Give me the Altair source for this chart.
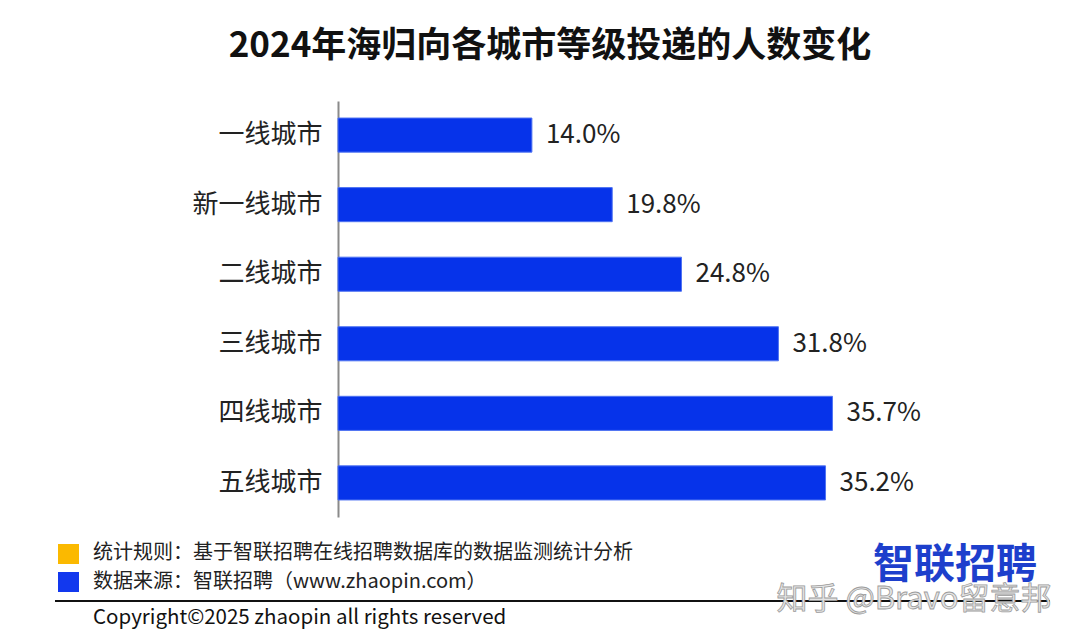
import altair as alt
import pandas as pd

# Share of overseas returnees' applications by city tier, 2024
cities = ["一线城市", "新一线城市", "二线城市", "三线城市", "四线城市", "五线城市"]
shares = [14.0, 19.8, 24.8, 31.8, 35.7, 35.2]

title_text = "2024年海归向各城市等级投递的人数变化"
note_rule = "统计规则：基于智联招聘在线招聘数据库的数据监测统计分析"
note_source = "数据来源：智联招聘（www.zhaopin.com）"
copyright_text = "Copyright©2025 zhaopin all rights reserved"
logo_text = "智联招聘"
watermark_text = "知乎 @Bravo留意邦"

FONT = "Noto Sans CJK SC"
BAR_BLUE = "#0633ea"
LOGO_BLUE = "#1d3fcc"
YELLOW = "#fbb900"

# plot area placement inside the 1080x643 canvas
LEFT, TOP, W, H = 338, 101, 554, 416

df = pd.DataFrame({
    "city": cities,
    "share": shares,
    "label": [f"{v:.1f}%" for v in shares],
})

x_enc = alt.X("share:Q", scale=alt.Scale(domain=[0, 40]), axis=None)
y_enc = alt.Y(
    "city:N",
    sort=cities,
    scale=alt.Scale(paddingInner=0.51, paddingOuter=0.245),
    axis=alt.Axis(
        title=None,
        ticks=False,
        domainColor="#8a8a8a",
        domainWidth=2,
        labelFont=FONT,
        labelFontSize=26,
        labelColor="#222222",
        labelPadding=16,
    ),
)

bars = alt.Chart(df).mark_bar(color=BAR_BLUE, stroke="#4f73f2", strokeWidth=1).encode(
    x=x_enc, y=y_enc
)

values = alt.Chart(df).mark_text(
    align="left", baseline="middle", dx=14, font=FONT, fontSize=26, color="#222222"
).encode(x=x_enc, y=alt.Y("city:N", sort=cities), text="label:N")


def one(**kw):
    return alt.Chart(alt.Data(values=[{}]))


def text_at(x, y, text, **style):
    return one().mark_text(text=text, font=FONT, baseline="middle", **style).encode(
        x=alt.value(x - LEFT), y=alt.value(y - TOP)
    )


def box(x1, x2, y1, y2, color):
    return one().mark_rect(color=color).encode(
        x=alt.value(x1 - LEFT), x2=alt.value(x2 - LEFT),
        y=alt.value(y1 - TOP), y2=alt.value(y2 - TOP),
    )


title = text_at(550, 46, title_text, align="center", fontSize=35, fontWeight="bold", color="#111111")

legend_yellow = box(58, 79, 544, 564, YELLOW)
legend_blue = box(58, 79, 572, 592, "#1238ee")
rule_note = text_at(93, 553, note_rule, align="left", fontSize=20, color="#222222")
source_note = text_at(93, 582, note_source, align="left", fontSize=20, color="#222222")

divider = one().mark_rule(color="#111111", strokeWidth=2).encode(
    x=alt.value(55 - LEFT), x2=alt.value(1050 - LEFT), y=alt.value(601 - TOP)
)
copyright_mark = text_at(93, 618, copyright_text, align="left", fontSize=20.5, color="#111111")

logo = text_at(955, 566, logo_text, align="center", fontSize=41, fontWeight="bold", color=LOGO_BLUE)
watermark = text_at(914, 600, watermark_text, align="center", fontSize=31,
                    color="#e4e4e4", stroke="#9c9c9c", strokeWidth=0.8)

chart = alt.layer(
    bars, values, title, legend_yellow, legend_blue, rule_note, source_note,
    divider, copyright_mark, logo, watermark,
).properties(
    width=W,
    height=H,
    autosize=alt.AutoSizeParams(type="none"),
    padding={"left": LEFT, "top": TOP, "right": 1080 - LEFT - W, "bottom": 643 - TOP - H},
    background="white",
).configure_view(stroke=None)

chart.save("out.html", embed_options={"renderer": "svg", "actions": False})
